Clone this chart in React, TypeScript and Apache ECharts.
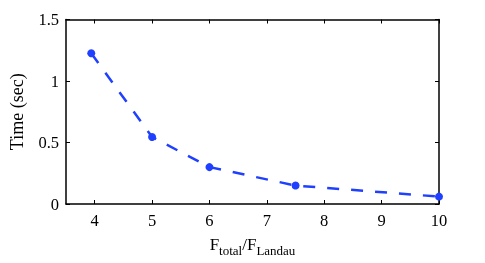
import React, { useEffect, useRef } from "react";
import * as echarts from "echarts";

const xValues = [3.94, 5, 6, 7.5, 10];
const timeValues = [1.225, 0.545, 0.3, 0.15, 0.06];
const xTicks = [4, 5, 6, 7, 8, 9, 10];
const yTicks = [0, 0.5, 1, 1.5];

export default function App() {
  const ref = useRef<HTMLDivElement>(null);
  useEffect(() => {
    if (!ref.current) return;
    const chart = echarts.init(ref.current, null, { renderer: "svg" });
    const font = "Liberation Serif";
    const axisLine = { show: true, onZero: false, lineStyle: { color: "#000", width: 1.5 } };
    chart.setOption({
      animation: false,
      textStyle: { fontFamily: font },
      grid: { left: 63, right: 46, top: 19.5, bottom: 59 },
      xAxis: [
        {
          type: "value",
          min: 3.5,
          max: 10,
          axisLine,
          splitLine: { show: false },
          axisTick: { inside: true, length: 4, customValues: xTicks, lineStyle: { color: "#000", width: 1 } },
          axisLabel: { customValues: xTicks, color: "#000", fontSize: 16.5, fontFamily: font, margin: 8 },
          name: "{a|F}{b|total}{a|/F}{b|Landau}",
          nameLocation: "middle",
          nameGap: 32,
          nameTextStyle: {
            rich: {
              a: { fontSize: 17, fontFamily: font, color: "#000", verticalAlign: "top", lineHeight: 17 },
              b: { fontSize: 13, fontFamily: font, color: "#000", padding: [8, 0, 0, 0], verticalAlign: "top", lineHeight: 13 },
            },
          },
        },
        {
          type: "value",
          position: "top",
          min: 3.5,
          max: 10,
          axisLine,
          splitLine: { show: false },
          axisTick: { inside: true, length: 4, customValues: xTicks, lineStyle: { color: "#000", width: 1 } },
          axisLabel: { show: false },
        },
      ],
      yAxis: [
        {
          type: "value",
          min: 0,
          max: 1.5,
          interval: 0.5,
          axisLine,
          splitLine: { show: false },
          axisTick: { inside: true, length: 4, lineStyle: { color: "#000", width: 1 } },
          axisLabel: { color: "#000", fontSize: 16.5, fontFamily: font, margin: 7, formatter: (v: number) => (yTicks.includes(v) ? String(v) : "") },
          name: "Time (sec)",
          nameLocation: "middle",
          nameGap: 40,
          nameTextStyle: { fontSize: 18, fontFamily: font, color: "#000" },
        },
        {
          type: "value",
          position: "right",
          min: 0,
          max: 1.5,
          interval: 0.5,
          axisLine,
          splitLine: { show: false },
          axisTick: { inside: true, length: 4, lineStyle: { color: "#000", width: 1 } },
          axisLabel: { show: false },
        },
      ],
      series: [
        {
          type: "line",
          data: xValues.map((x, i) => [x, timeValues[i]]),
          symbol: "circle",
          symbolSize: 8,
          itemStyle: { color: "#2040ff" },
          lineStyle: { color: "#2040ff", width: 2.5, type: [12, 12] },
        },
      ],
    });
    return () => chart.dispose();
  }, []);
  return <div ref={ref} style={{ position: "fixed", left: 0, top: 0, width: 485, height: 263 }} />;
}
